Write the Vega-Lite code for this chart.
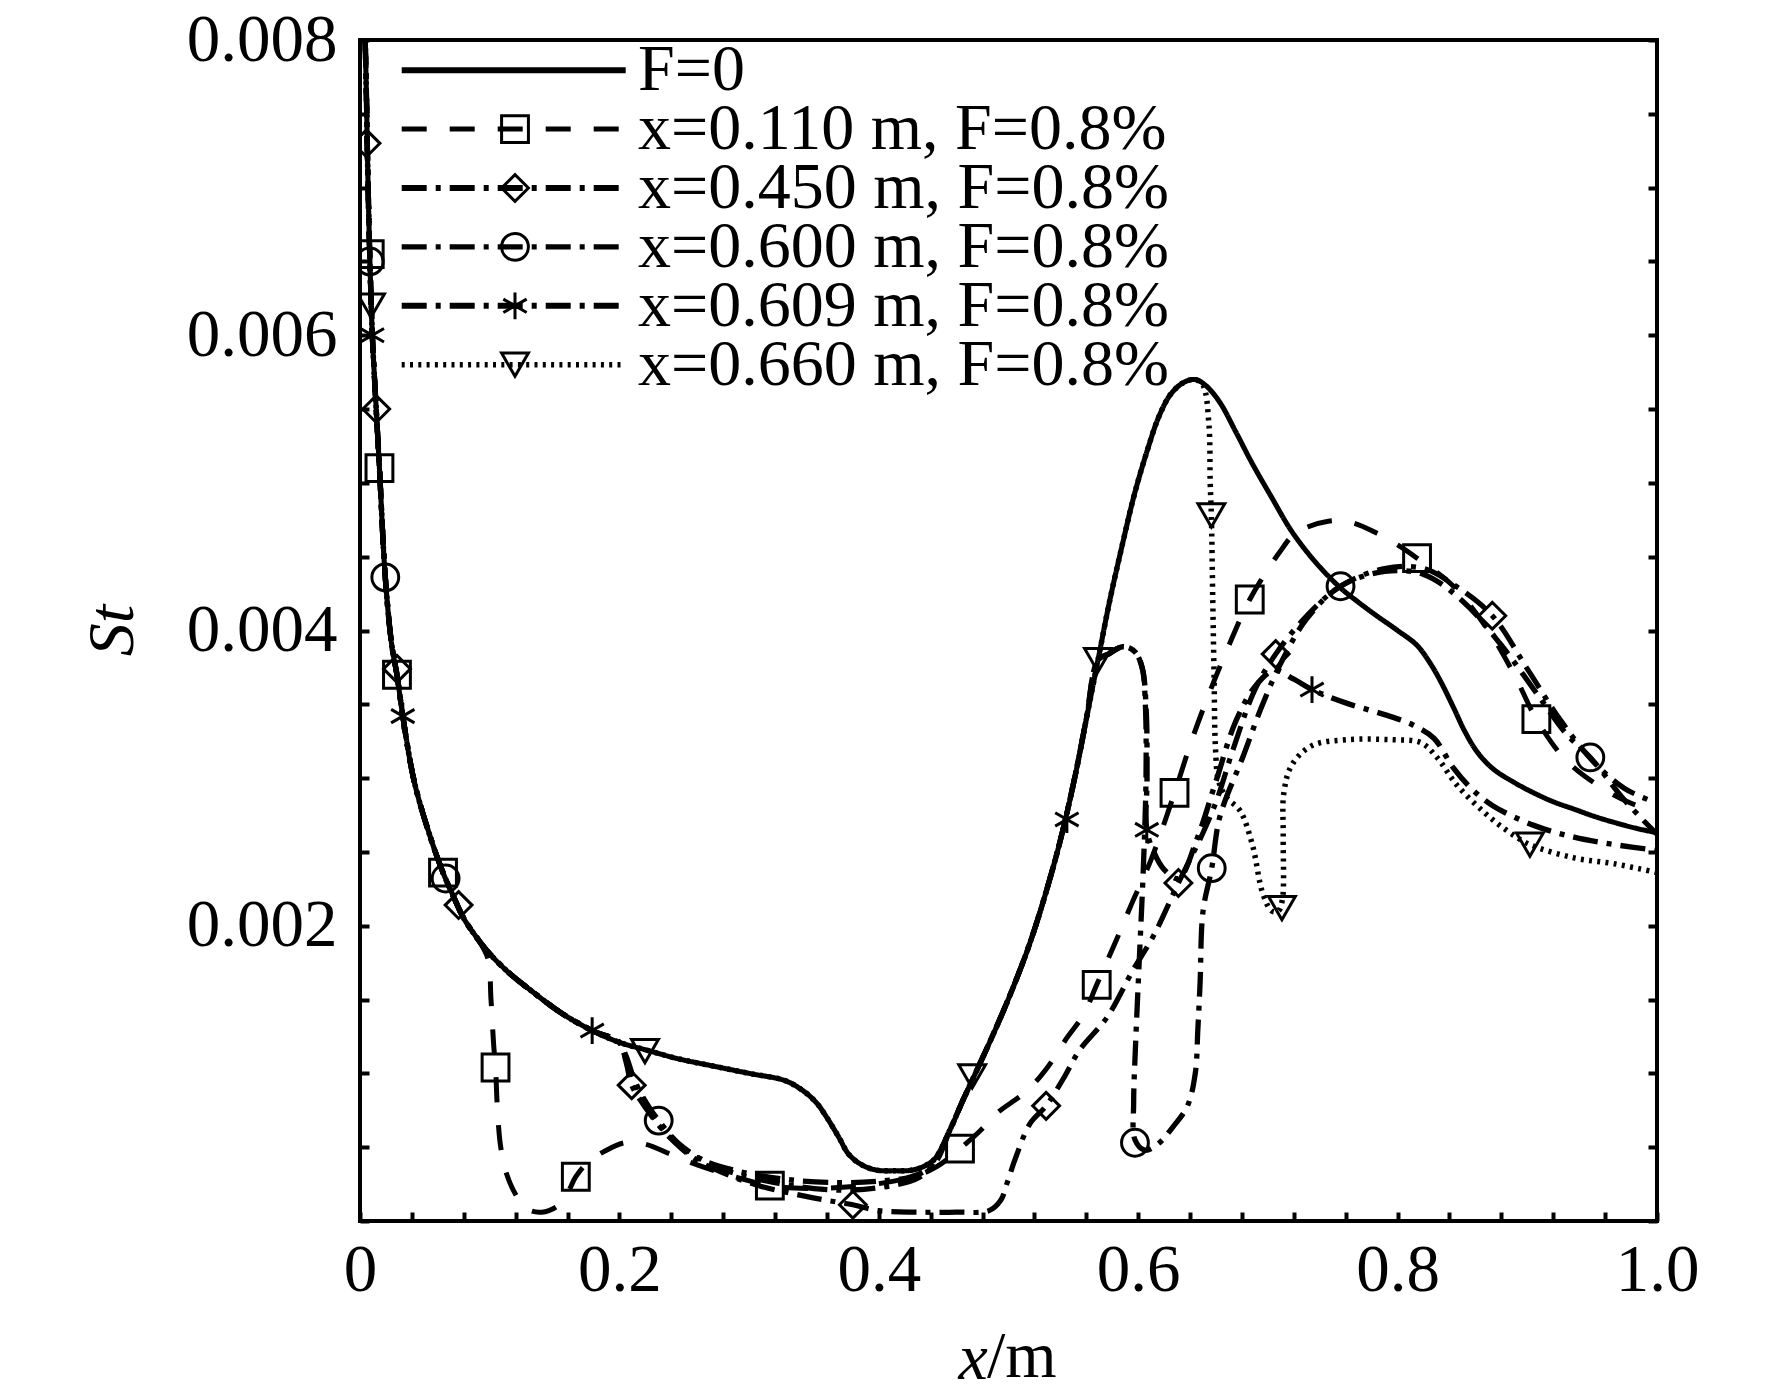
{
  "$schema": "https://vega.github.io/schema/vega-lite/v6.json",
  "autosize": "none",
  "width": 1297,
  "height": 1181,
  "padding": {"left": 360, "top": 40, "right": 115, "bottom": 176},
  "background": "white",
  "title": {
    "text": "/m",
    "orient": "bottom",
    "anchor": "start",
    "frame": "group",
    "font": "Liberation Serif",
    "fontSize": 66,
    "fontWeight": "normal",
    "color": "black",
    "dx": 627,
    "dy": -14,
    "offset": 0,
    "baseline": "alphabetic"
  },
  "datasets": {
    "curves": [
      {"series": "F=0", "x": 0.004, "st": 0.008},
      {"series": "F=0", "x": 0.005, "st": 0.0076},
      {"series": "F=0", "x": 0.0058, "st": 0.0072},
      {"series": "F=0", "x": 0.0075, "st": 0.00655},
      {"series": "F=0", "x": 0.0095, "st": 0.006},
      {"series": "F=0", "x": 0.0125, "st": 0.0055},
      {"series": "F=0", "x": 0.015, "st": 0.0051},
      {"series": "F=0", "x": 0.0195, "st": 0.00436},
      {"series": "F=0", "x": 0.0245, "st": 0.0039},
      {"series": "F=0", "x": 0.0285, "st": 0.0037},
      {"series": "F=0", "x": 0.033, "st": 0.00342},
      {"series": "F=0", "x": 0.042, "st": 0.00297},
      {"series": "F=0", "x": 0.055, "st": 0.00258},
      {"series": "F=0", "x": 0.064, "st": 0.00236},
      {"series": "F=0", "x": 0.072, "st": 0.0022},
      {"series": "F=0", "x": 0.08, "st": 0.00205},
      {"series": "F=0", "x": 0.09, "st": 0.00192},
      {"series": "F=0", "x": 0.099, "st": 0.00182},
      {"series": "F=0", "x": 0.115, "st": 0.00168},
      {"series": "F=0", "x": 0.132, "st": 0.00156},
      {"series": "F=0", "x": 0.155, "st": 0.00141},
      {"series": "F=0", "x": 0.179, "st": 0.00129},
      {"series": "F=0", "x": 0.2, "st": 0.00121},
      {"series": "F=0", "x": 0.22, "st": 0.00116},
      {"series": "F=0", "x": 0.245, "st": 0.0011},
      {"series": "F=0", "x": 0.272, "st": 0.00105},
      {"series": "F=0", "x": 0.3, "st": 0.001},
      {"series": "F=0", "x": 0.328, "st": 0.00095},
      {"series": "F=0", "x": 0.342, "st": 0.00088},
      {"series": "F=0", "x": 0.352, "st": 0.0008},
      {"series": "F=0", "x": 0.36, "st": 0.0007},
      {"series": "F=0", "x": 0.369, "st": 0.00057},
      {"series": "F=0", "x": 0.377, "st": 0.00045},
      {"series": "F=0", "x": 0.387, "st": 0.00038},
      {"series": "F=0", "x": 0.398, "st": 0.000345},
      {"series": "F=0", "x": 0.412, "st": 0.00034},
      {"series": "F=0", "x": 0.426, "st": 0.000345},
      {"series": "F=0", "x": 0.437, "st": 0.00038},
      {"series": "F=0", "x": 0.444, "st": 0.00043},
      {"series": "F=0", "x": 0.455, "st": 0.00062},
      {"series": "F=0", "x": 0.465, "st": 0.00082},
      {"series": "F=0", "x": 0.475, "st": 0.00101},
      {"series": "F=0", "x": 0.49, "st": 0.0013},
      {"series": "F=0", "x": 0.503, "st": 0.00157},
      {"series": "F=0", "x": 0.516, "st": 0.00187},
      {"series": "F=0", "x": 0.528, "st": 0.0022},
      {"series": "F=0", "x": 0.54, "st": 0.00258},
      {"series": "F=0", "x": 0.551, "st": 0.003},
      {"series": "F=0", "x": 0.56, "st": 0.0034},
      {"series": "F=0", "x": 0.569, "st": 0.0038},
      {"series": "F=0", "x": 0.578, "st": 0.0042},
      {"series": "F=0", "x": 0.588, "st": 0.00459},
      {"series": "F=0", "x": 0.597, "st": 0.00492},
      {"series": "F=0", "x": 0.607, "st": 0.00522},
      {"series": "F=0", "x": 0.616, "st": 0.00545},
      {"series": "F=0", "x": 0.625, "st": 0.0056},
      {"series": "F=0", "x": 0.635, "st": 0.00568},
      {"series": "F=0", "x": 0.644, "st": 0.0057},
      {"series": "F=0", "x": 0.652, "st": 0.00566},
      {"series": "F=0", "x": 0.6626, "st": 0.00555},
      {"series": "F=0", "x": 0.675, "st": 0.00535},
      {"series": "F=0", "x": 0.6874, "st": 0.00514},
      {"series": "F=0", "x": 0.703, "st": 0.0049},
      {"series": "F=0", "x": 0.7185, "st": 0.00467},
      {"series": "F=0", "x": 0.737, "st": 0.00446},
      {"series": "F=0", "x": 0.7558, "st": 0.00429},
      {"series": "F=0", "x": 0.77, "st": 0.00419},
      {"series": "F=0", "x": 0.7838, "st": 0.0041},
      {"series": "F=0", "x": 0.8, "st": 0.004},
      {"series": "F=0", "x": 0.8149, "st": 0.0039},
      {"series": "F=0", "x": 0.825, "st": 0.00378},
      {"series": "F=0", "x": 0.8335, "st": 0.00365},
      {"series": "F=0", "x": 0.843, "st": 0.00348},
      {"series": "F=0", "x": 0.8522, "st": 0.00331},
      {"series": "F=0", "x": 0.862, "st": 0.00317},
      {"series": "F=0", "x": 0.874, "st": 0.00306},
      {"series": "F=0", "x": 0.89, "st": 0.00297},
      {"series": "F=0", "x": 0.905, "st": 0.0029},
      {"series": "F=0", "x": 0.92, "st": 0.00284},
      {"series": "F=0", "x": 0.936, "st": 0.00279},
      {"series": "F=0", "x": 0.952, "st": 0.00274},
      {"series": "F=0", "x": 0.967, "st": 0.0027},
      {"series": "F=0", "x": 0.984, "st": 0.00266},
      {"series": "F=0", "x": 1.0, "st": 0.00263},

      {"series": "x=0.110 m, F=0.8%", "x": 0.004, "st": 0.008},
      {"series": "x=0.110 m, F=0.8%", "x": 0.005, "st": 0.0076},
      {"series": "x=0.110 m, F=0.8%", "x": 0.0058, "st": 0.0072},
      {"series": "x=0.110 m, F=0.8%", "x": 0.0075, "st": 0.00655},
      {"series": "x=0.110 m, F=0.8%", "x": 0.0095, "st": 0.006},
      {"series": "x=0.110 m, F=0.8%", "x": 0.0125, "st": 0.0055},
      {"series": "x=0.110 m, F=0.8%", "x": 0.015, "st": 0.0051},
      {"series": "x=0.110 m, F=0.8%", "x": 0.0195, "st": 0.00436},
      {"series": "x=0.110 m, F=0.8%", "x": 0.0245, "st": 0.0039},
      {"series": "x=0.110 m, F=0.8%", "x": 0.0285, "st": 0.0037},
      {"series": "x=0.110 m, F=0.8%", "x": 0.033, "st": 0.00342},
      {"series": "x=0.110 m, F=0.8%", "x": 0.042, "st": 0.00297},
      {"series": "x=0.110 m, F=0.8%", "x": 0.055, "st": 0.00258},
      {"series": "x=0.110 m, F=0.8%", "x": 0.064, "st": 0.00236},
      {"series": "x=0.110 m, F=0.8%", "x": 0.072, "st": 0.0022},
      {"series": "x=0.110 m, F=0.8%", "x": 0.08, "st": 0.00205},
      {"series": "x=0.110 m, F=0.8%", "x": 0.09, "st": 0.00192},
      {"series": "x=0.110 m, F=0.8%", "x": 0.0985, "st": 0.00178},
      {"series": "x=0.110 m, F=0.8%", "x": 0.101, "st": 0.0015},
      {"series": "x=0.110 m, F=0.8%", "x": 0.103, "st": 0.0012},
      {"series": "x=0.110 m, F=0.8%", "x": 0.1045, "st": 0.00104},
      {"series": "x=0.110 m, F=0.8%", "x": 0.106, "st": 0.00075},
      {"series": "x=0.110 m, F=0.8%", "x": 0.1085, "st": 0.0005},
      {"series": "x=0.110 m, F=0.8%", "x": 0.113, "st": 0.00032},
      {"series": "x=0.110 m, F=0.8%", "x": 0.12, "st": 0.00018},
      {"series": "x=0.110 m, F=0.8%", "x": 0.129, "st": 0.00008},
      {"series": "x=0.110 m, F=0.8%", "x": 0.14, "st": 0.00006},
      {"series": "x=0.110 m, F=0.8%", "x": 0.152, "st": 0.0001},
      {"series": "x=0.110 m, F=0.8%", "x": 0.16, "st": 0.00019},
      {"series": "x=0.110 m, F=0.8%", "x": 0.1664, "st": 0.0003},
      {"series": "x=0.110 m, F=0.8%", "x": 0.176, "st": 0.0004},
      {"series": "x=0.110 m, F=0.8%", "x": 0.188, "st": 0.00047},
      {"series": "x=0.110 m, F=0.8%", "x": 0.204, "st": 0.00053},
      {"series": "x=0.110 m, F=0.8%", "x": 0.22, "st": 0.00052},
      {"series": "x=0.110 m, F=0.8%", "x": 0.24, "st": 0.00045},
      {"series": "x=0.110 m, F=0.8%", "x": 0.26, "st": 0.00038},
      {"series": "x=0.110 m, F=0.8%", "x": 0.285, "st": 0.00031},
      {"series": "x=0.110 m, F=0.8%", "x": 0.316, "st": 0.00024},
      {"series": "x=0.110 m, F=0.8%", "x": 0.345, "st": 0.00022},
      {"series": "x=0.110 m, F=0.8%", "x": 0.375, "st": 0.00023},
      {"series": "x=0.110 m, F=0.8%", "x": 0.405, "st": 0.00026},
      {"series": "x=0.110 m, F=0.8%", "x": 0.43, "st": 0.00031},
      {"series": "x=0.110 m, F=0.8%", "x": 0.445, "st": 0.00037},
      {"series": "x=0.110 m, F=0.8%", "x": 0.4626, "st": 0.00049},
      {"series": "x=0.110 m, F=0.8%", "x": 0.478, "st": 0.00061},
      {"series": "x=0.110 m, F=0.8%", "x": 0.491, "st": 0.00073},
      {"series": "x=0.110 m, F=0.8%", "x": 0.514, "st": 0.00088},
      {"series": "x=0.110 m, F=0.8%", "x": 0.53, "st": 0.00104},
      {"series": "x=0.110 m, F=0.8%", "x": 0.545, "st": 0.00124},
      {"series": "x=0.110 m, F=0.8%", "x": 0.558, "st": 0.0014},
      {"series": "x=0.110 m, F=0.8%", "x": 0.568, "st": 0.0016},
      {"series": "x=0.110 m, F=0.8%", "x": 0.583, "st": 0.0019},
      {"series": "x=0.110 m, F=0.8%", "x": 0.595, "st": 0.00215},
      {"series": "x=0.110 m, F=0.8%", "x": 0.61, "st": 0.00245},
      {"series": "x=0.110 m, F=0.8%", "x": 0.628, "st": 0.0029},
      {"series": "x=0.110 m, F=0.8%", "x": 0.641, "st": 0.00325},
      {"series": "x=0.110 m, F=0.8%", "x": 0.655, "st": 0.00358},
      {"series": "x=0.110 m, F=0.8%", "x": 0.669, "st": 0.00388},
      {"series": "x=0.110 m, F=0.8%", "x": 0.686, "st": 0.00421},
      {"series": "x=0.110 m, F=0.8%", "x": 0.709, "st": 0.00453},
      {"series": "x=0.110 m, F=0.8%", "x": 0.7216, "st": 0.00466},
      {"series": "x=0.110 m, F=0.8%", "x": 0.7465, "st": 0.00474},
      {"series": "x=0.110 m, F=0.8%", "x": 0.765, "st": 0.00473},
      {"series": "x=0.110 m, F=0.8%", "x": 0.7838, "st": 0.00466},
      {"series": "x=0.110 m, F=0.8%", "x": 0.8, "st": 0.00458},
      {"series": "x=0.110 m, F=0.8%", "x": 0.815, "st": 0.00449},
      {"series": "x=0.110 m, F=0.8%", "x": 0.843, "st": 0.0043},
      {"series": "x=0.110 m, F=0.8%", "x": 0.87, "st": 0.004},
      {"series": "x=0.110 m, F=0.8%", "x": 0.89, "st": 0.0037},
      {"series": "x=0.110 m, F=0.8%", "x": 0.907, "st": 0.0034},
      {"series": "x=0.110 m, F=0.8%", "x": 0.93, "st": 0.00312},
      {"series": "x=0.110 m, F=0.8%", "x": 0.96, "st": 0.00292},
      {"series": "x=0.110 m, F=0.8%", "x": 0.98, "st": 0.00283},
      {"series": "x=0.110 m, F=0.8%", "x": 1.0, "st": 0.00277},

      {"series": "x=0.450 m, F=0.8%", "x": 0.004, "st": 0.008},
      {"series": "x=0.450 m, F=0.8%", "x": 0.005, "st": 0.0076},
      {"series": "x=0.450 m, F=0.8%", "x": 0.0058, "st": 0.0072},
      {"series": "x=0.450 m, F=0.8%", "x": 0.0075, "st": 0.00655},
      {"series": "x=0.450 m, F=0.8%", "x": 0.0095, "st": 0.006},
      {"series": "x=0.450 m, F=0.8%", "x": 0.0125, "st": 0.0055},
      {"series": "x=0.450 m, F=0.8%", "x": 0.015, "st": 0.0051},
      {"series": "x=0.450 m, F=0.8%", "x": 0.0195, "st": 0.00436},
      {"series": "x=0.450 m, F=0.8%", "x": 0.0245, "st": 0.0039},
      {"series": "x=0.450 m, F=0.8%", "x": 0.0285, "st": 0.0037},
      {"series": "x=0.450 m, F=0.8%", "x": 0.033, "st": 0.00342},
      {"series": "x=0.450 m, F=0.8%", "x": 0.042, "st": 0.00297},
      {"series": "x=0.450 m, F=0.8%", "x": 0.055, "st": 0.00258},
      {"series": "x=0.450 m, F=0.8%", "x": 0.064, "st": 0.00236},
      {"series": "x=0.450 m, F=0.8%", "x": 0.072, "st": 0.0022},
      {"series": "x=0.450 m, F=0.8%", "x": 0.08, "st": 0.00205},
      {"series": "x=0.450 m, F=0.8%", "x": 0.09, "st": 0.00192},
      {"series": "x=0.450 m, F=0.8%", "x": 0.099, "st": 0.00182},
      {"series": "x=0.450 m, F=0.8%", "x": 0.115, "st": 0.00168},
      {"series": "x=0.450 m, F=0.8%", "x": 0.132, "st": 0.00156},
      {"series": "x=0.450 m, F=0.8%", "x": 0.155, "st": 0.00141},
      {"series": "x=0.450 m, F=0.8%", "x": 0.179, "st": 0.00129},
      {"series": "x=0.450 m, F=0.8%", "x": 0.2, "st": 0.00121},
      {"series": "x=0.450 m, F=0.8%", "x": 0.205, "st": 0.00108},
      {"series": "x=0.450 m, F=0.8%", "x": 0.2095, "st": 0.00092},
      {"series": "x=0.450 m, F=0.8%", "x": 0.216, "st": 0.00082},
      {"series": "x=0.450 m, F=0.8%", "x": 0.224, "st": 0.00072},
      {"series": "x=0.450 m, F=0.8%", "x": 0.235, "st": 0.0006},
      {"series": "x=0.450 m, F=0.8%", "x": 0.248, "st": 0.00049},
      {"series": "x=0.450 m, F=0.8%", "x": 0.26, "st": 0.00041},
      {"series": "x=0.450 m, F=0.8%", "x": 0.279, "st": 0.00033},
      {"series": "x=0.450 m, F=0.8%", "x": 0.307, "st": 0.00024},
      {"series": "x=0.450 m, F=0.8%", "x": 0.342, "st": 0.00017},
      {"series": "x=0.450 m, F=0.8%", "x": 0.36, "st": 0.00014},
      {"series": "x=0.450 m, F=0.8%", "x": 0.38, "st": 0.00011},
      {"series": "x=0.450 m, F=0.8%", "x": 0.4, "st": 0.00007},
      {"series": "x=0.450 m, F=0.8%", "x": 0.43, "st": 0.00006},
      {"series": "x=0.450 m, F=0.8%", "x": 0.46, "st": 0.00006},
      {"series": "x=0.450 m, F=0.8%", "x": 0.485, "st": 0.00007},
      {"series": "x=0.450 m, F=0.8%", "x": 0.494, "st": 0.00014},
      {"series": "x=0.450 m, F=0.8%", "x": 0.499, "st": 0.00026},
      {"series": "x=0.450 m, F=0.8%", "x": 0.506, "st": 0.00044},
      {"series": "x=0.450 m, F=0.8%", "x": 0.5166, "st": 0.00066},
      {"series": "x=0.450 m, F=0.8%", "x": 0.529, "st": 0.00078},
      {"series": "x=0.450 m, F=0.8%", "x": 0.542, "st": 0.00096},
      {"series": "x=0.450 m, F=0.8%", "x": 0.555, "st": 0.00116},
      {"series": "x=0.450 m, F=0.8%", "x": 0.576, "st": 0.00138},
      {"series": "x=0.450 m, F=0.8%", "x": 0.596, "st": 0.0017},
      {"series": "x=0.450 m, F=0.8%", "x": 0.6117, "st": 0.00193},
      {"series": "x=0.450 m, F=0.8%", "x": 0.631, "st": 0.00229},
      {"series": "x=0.450 m, F=0.8%", "x": 0.65, "st": 0.00263},
      {"series": "x=0.450 m, F=0.8%", "x": 0.6605, "st": 0.00285},
      {"series": "x=0.450 m, F=0.8%", "x": 0.673, "st": 0.00319},
      {"series": "x=0.450 m, F=0.8%", "x": 0.69, "st": 0.0036},
      {"series": "x=0.450 m, F=0.8%", "x": 0.706, "st": 0.00384},
      {"series": "x=0.450 m, F=0.8%", "x": 0.73, "st": 0.0041},
      {"series": "x=0.450 m, F=0.8%", "x": 0.756, "st": 0.0043},
      {"series": "x=0.450 m, F=0.8%", "x": 0.79, "st": 0.00442},
      {"series": "x=0.450 m, F=0.8%", "x": 0.82, "st": 0.00442},
      {"series": "x=0.450 m, F=0.8%", "x": 0.845, "st": 0.0043},
      {"series": "x=0.450 m, F=0.8%", "x": 0.873, "st": 0.0041},
      {"series": "x=0.450 m, F=0.8%", "x": 0.9, "st": 0.00374},
      {"series": "x=0.450 m, F=0.8%", "x": 0.925, "st": 0.0034},
      {"series": "x=0.450 m, F=0.8%", "x": 0.95, "st": 0.00312},
      {"series": "x=0.450 m, F=0.8%", "x": 0.975, "st": 0.00293},
      {"series": "x=0.450 m, F=0.8%", "x": 1.0, "st": 0.00283},

      {"series": "x=0.600 m, F=0.8%", "x": 0.004, "st": 0.008},
      {"series": "x=0.600 m, F=0.8%", "x": 0.005, "st": 0.0076},
      {"series": "x=0.600 m, F=0.8%", "x": 0.0058, "st": 0.0072},
      {"series": "x=0.600 m, F=0.8%", "x": 0.0075, "st": 0.00655},
      {"series": "x=0.600 m, F=0.8%", "x": 0.0095, "st": 0.006},
      {"series": "x=0.600 m, F=0.8%", "x": 0.0125, "st": 0.0055},
      {"series": "x=0.600 m, F=0.8%", "x": 0.015, "st": 0.0051},
      {"series": "x=0.600 m, F=0.8%", "x": 0.0195, "st": 0.00436},
      {"series": "x=0.600 m, F=0.8%", "x": 0.0245, "st": 0.0039},
      {"series": "x=0.600 m, F=0.8%", "x": 0.0285, "st": 0.0037},
      {"series": "x=0.600 m, F=0.8%", "x": 0.033, "st": 0.00342},
      {"series": "x=0.600 m, F=0.8%", "x": 0.042, "st": 0.00297},
      {"series": "x=0.600 m, F=0.8%", "x": 0.055, "st": 0.00258},
      {"series": "x=0.600 m, F=0.8%", "x": 0.064, "st": 0.00236},
      {"series": "x=0.600 m, F=0.8%", "x": 0.072, "st": 0.0022},
      {"series": "x=0.600 m, F=0.8%", "x": 0.08, "st": 0.00205},
      {"series": "x=0.600 m, F=0.8%", "x": 0.09, "st": 0.00192},
      {"series": "x=0.600 m, F=0.8%", "x": 0.099, "st": 0.00182},
      {"series": "x=0.600 m, F=0.8%", "x": 0.115, "st": 0.00168},
      {"series": "x=0.600 m, F=0.8%", "x": 0.132, "st": 0.00156},
      {"series": "x=0.600 m, F=0.8%", "x": 0.155, "st": 0.00141},
      {"series": "x=0.600 m, F=0.8%", "x": 0.179, "st": 0.00129},
      {"series": "x=0.600 m, F=0.8%", "x": 0.2, "st": 0.00121},
      {"series": "x=0.600 m, F=0.8%", "x": 0.205, "st": 0.0011},
      {"series": "x=0.600 m, F=0.8%", "x": 0.215, "st": 0.00089},
      {"series": "x=0.600 m, F=0.8%", "x": 0.223, "st": 0.00077},
      {"series": "x=0.600 m, F=0.8%", "x": 0.2303, "st": 0.00068},
      {"series": "x=0.600 m, F=0.8%", "x": 0.245, "st": 0.00053},
      {"series": "x=0.600 m, F=0.8%", "x": 0.265, "st": 0.00041},
      {"series": "x=0.600 m, F=0.8%", "x": 0.29, "st": 0.00032},
      {"series": "x=0.600 m, F=0.8%", "x": 0.32, "st": 0.00026},
      {"series": "x=0.600 m, F=0.8%", "x": 0.35, "st": 0.00022},
      {"series": "x=0.600 m, F=0.8%", "x": 0.38, "st": 0.00021},
      {"series": "x=0.600 m, F=0.8%", "x": 0.41, "st": 0.00024},
      {"series": "x=0.600 m, F=0.8%", "x": 0.43, "st": 0.00029},
      {"series": "x=0.600 m, F=0.8%", "x": 0.444, "st": 0.0004},
      {"series": "x=0.600 m, F=0.8%", "x": 0.455, "st": 0.00062},
      {"series": "x=0.600 m, F=0.8%", "x": 0.465, "st": 0.00082},
      {"series": "x=0.600 m, F=0.8%", "x": 0.475, "st": 0.00101},
      {"series": "x=0.600 m, F=0.8%", "x": 0.49, "st": 0.0013},
      {"series": "x=0.600 m, F=0.8%", "x": 0.503, "st": 0.00157},
      {"series": "x=0.600 m, F=0.8%", "x": 0.516, "st": 0.00187},
      {"series": "x=0.600 m, F=0.8%", "x": 0.528, "st": 0.0022},
      {"series": "x=0.600 m, F=0.8%", "x": 0.54, "st": 0.00258},
      {"series": "x=0.600 m, F=0.8%", "x": 0.551, "st": 0.003},
      {"series": "x=0.600 m, F=0.8%", "x": 0.56, "st": 0.0034},
      {"series": "x=0.600 m, F=0.8%", "x": 0.569, "st": 0.0038},
      {"series": "x=0.600 m, F=0.8%", "x": 0.577, "st": 0.00384},
      {"series": "x=0.600 m, F=0.8%", "x": 0.588, "st": 0.00389},
      {"series": "x=0.600 m, F=0.8%", "x": 0.597, "st": 0.00386},
      {"series": "x=0.600 m, F=0.8%", "x": 0.603, "st": 0.00375},
      {"series": "x=0.600 m, F=0.8%", "x": 0.6055, "st": 0.0035},
      {"series": "x=0.600 m, F=0.8%", "x": 0.606, "st": 0.003},
      {"series": "x=0.600 m, F=0.8%", "x": 0.604, "st": 0.0024},
      {"series": "x=0.600 m, F=0.8%", "x": 0.601, "st": 0.0018},
      {"series": "x=0.600 m, F=0.8%", "x": 0.598, "st": 0.0012},
      {"series": "x=0.600 m, F=0.8%", "x": 0.5965, "st": 0.0008},
      {"series": "x=0.600 m, F=0.8%", "x": 0.5975, "st": 0.00055},
      {"series": "x=0.600 m, F=0.8%", "x": 0.605, "st": 0.00048},
      {"series": "x=0.600 m, F=0.8%", "x": 0.615, "st": 0.00052},
      {"series": "x=0.600 m, F=0.8%", "x": 0.627, "st": 0.00064},
      {"series": "x=0.600 m, F=0.8%", "x": 0.638, "st": 0.00078},
      {"series": "x=0.600 m, F=0.8%", "x": 0.644, "st": 0.001},
      {"series": "x=0.600 m, F=0.8%", "x": 0.646, "st": 0.0013},
      {"series": "x=0.600 m, F=0.8%", "x": 0.6477, "st": 0.00161},
      {"series": "x=0.600 m, F=0.8%", "x": 0.65, "st": 0.0021},
      {"series": "x=0.600 m, F=0.8%", "x": 0.6567, "st": 0.00239},
      {"series": "x=0.600 m, F=0.8%", "x": 0.663, "st": 0.00274},
      {"series": "x=0.600 m, F=0.8%", "x": 0.681, "st": 0.00315},
      {"series": "x=0.600 m, F=0.8%", "x": 0.695, "st": 0.00348},
      {"series": "x=0.600 m, F=0.8%", "x": 0.71, "st": 0.00378},
      {"series": "x=0.600 m, F=0.8%", "x": 0.73, "st": 0.00408},
      {"series": "x=0.600 m, F=0.8%", "x": 0.756, "st": 0.0043},
      {"series": "x=0.600 m, F=0.8%", "x": 0.79, "st": 0.0044},
      {"series": "x=0.600 m, F=0.8%", "x": 0.82, "st": 0.00438},
      {"series": "x=0.600 m, F=0.8%", "x": 0.85, "st": 0.0042},
      {"series": "x=0.600 m, F=0.8%", "x": 0.88, "st": 0.0039},
      {"series": "x=0.600 m, F=0.8%", "x": 0.91, "st": 0.00354},
      {"series": "x=0.600 m, F=0.8%", "x": 0.93, "st": 0.0033},
      {"series": "x=0.600 m, F=0.8%", "x": 0.9486, "st": 0.00314},
      {"series": "x=0.600 m, F=0.8%", "x": 0.975, "st": 0.00285},
      {"series": "x=0.600 m, F=0.8%", "x": 1.0, "st": 0.00262},

      {"series": "x=0.609 m, F=0.8%", "x": 0.004, "st": 0.008},
      {"series": "x=0.609 m, F=0.8%", "x": 0.005, "st": 0.0076},
      {"series": "x=0.609 m, F=0.8%", "x": 0.0058, "st": 0.0072},
      {"series": "x=0.609 m, F=0.8%", "x": 0.0075, "st": 0.00655},
      {"series": "x=0.609 m, F=0.8%", "x": 0.0095, "st": 0.006},
      {"series": "x=0.609 m, F=0.8%", "x": 0.0125, "st": 0.0055},
      {"series": "x=0.609 m, F=0.8%", "x": 0.015, "st": 0.0051},
      {"series": "x=0.609 m, F=0.8%", "x": 0.0195, "st": 0.00436},
      {"series": "x=0.609 m, F=0.8%", "x": 0.0245, "st": 0.0039},
      {"series": "x=0.609 m, F=0.8%", "x": 0.0285, "st": 0.0037},
      {"series": "x=0.609 m, F=0.8%", "x": 0.033, "st": 0.00342},
      {"series": "x=0.609 m, F=0.8%", "x": 0.042, "st": 0.00297},
      {"series": "x=0.609 m, F=0.8%", "x": 0.055, "st": 0.00258},
      {"series": "x=0.609 m, F=0.8%", "x": 0.064, "st": 0.00236},
      {"series": "x=0.609 m, F=0.8%", "x": 0.072, "st": 0.0022},
      {"series": "x=0.609 m, F=0.8%", "x": 0.08, "st": 0.00205},
      {"series": "x=0.609 m, F=0.8%", "x": 0.09, "st": 0.00192},
      {"series": "x=0.609 m, F=0.8%", "x": 0.099, "st": 0.00182},
      {"series": "x=0.609 m, F=0.8%", "x": 0.115, "st": 0.00168},
      {"series": "x=0.609 m, F=0.8%", "x": 0.132, "st": 0.00156},
      {"series": "x=0.609 m, F=0.8%", "x": 0.155, "st": 0.00141},
      {"series": "x=0.609 m, F=0.8%", "x": 0.179, "st": 0.00129},
      {"series": "x=0.609 m, F=0.8%", "x": 0.2, "st": 0.00121},
      {"series": "x=0.609 m, F=0.8%", "x": 0.205, "st": 0.00112},
      {"series": "x=0.609 m, F=0.8%", "x": 0.215, "st": 0.00087},
      {"series": "x=0.609 m, F=0.8%", "x": 0.23, "st": 0.00066},
      {"series": "x=0.609 m, F=0.8%", "x": 0.245, "st": 0.00052},
      {"series": "x=0.609 m, F=0.8%", "x": 0.262, "st": 0.00042},
      {"series": "x=0.609 m, F=0.8%", "x": 0.29, "st": 0.00034},
      {"series": "x=0.609 m, F=0.8%", "x": 0.33, "st": 0.00028},
      {"series": "x=0.609 m, F=0.8%", "x": 0.37, "st": 0.00026},
      {"series": "x=0.609 m, F=0.8%", "x": 0.4, "st": 0.00027},
      {"series": "x=0.609 m, F=0.8%", "x": 0.425, "st": 0.0003},
      {"series": "x=0.609 m, F=0.8%", "x": 0.44, "st": 0.00037},
      {"series": "x=0.609 m, F=0.8%", "x": 0.455, "st": 0.00062},
      {"series": "x=0.609 m, F=0.8%", "x": 0.465, "st": 0.00082},
      {"series": "x=0.609 m, F=0.8%", "x": 0.475, "st": 0.00101},
      {"series": "x=0.609 m, F=0.8%", "x": 0.49, "st": 0.0013},
      {"series": "x=0.609 m, F=0.8%", "x": 0.503, "st": 0.00157},
      {"series": "x=0.609 m, F=0.8%", "x": 0.516, "st": 0.00187},
      {"series": "x=0.609 m, F=0.8%", "x": 0.528, "st": 0.0022},
      {"series": "x=0.609 m, F=0.8%", "x": 0.54, "st": 0.00258},
      {"series": "x=0.609 m, F=0.8%", "x": 0.551, "st": 0.003},
      {"series": "x=0.609 m, F=0.8%", "x": 0.56, "st": 0.0034},
      {"series": "x=0.609 m, F=0.8%", "x": 0.569, "st": 0.0038},
      {"series": "x=0.609 m, F=0.8%", "x": 0.577, "st": 0.00384},
      {"series": "x=0.609 m, F=0.8%", "x": 0.588, "st": 0.00389},
      {"series": "x=0.609 m, F=0.8%", "x": 0.597, "st": 0.00386},
      {"series": "x=0.609 m, F=0.8%", "x": 0.603, "st": 0.00375},
      {"series": "x=0.609 m, F=0.8%", "x": 0.6062, "st": 0.00345},
      {"series": "x=0.609 m, F=0.8%", "x": 0.6068, "st": 0.003},
      {"series": "x=0.609 m, F=0.8%", "x": 0.6066, "st": 0.00265},
      {"series": "x=0.609 m, F=0.8%", "x": 0.612, "st": 0.0025},
      {"series": "x=0.609 m, F=0.8%", "x": 0.62, "st": 0.00238},
      {"series": "x=0.609 m, F=0.8%", "x": 0.631, "st": 0.00232},
      {"series": "x=0.609 m, F=0.8%", "x": 0.645, "st": 0.00258},
      {"series": "x=0.609 m, F=0.8%", "x": 0.66, "st": 0.00298},
      {"series": "x=0.609 m, F=0.8%", "x": 0.675, "st": 0.00338},
      {"series": "x=0.609 m, F=0.8%", "x": 0.69, "st": 0.00362},
      {"series": "x=0.609 m, F=0.8%", "x": 0.705, "st": 0.00373},
      {"series": "x=0.609 m, F=0.8%", "x": 0.72, "st": 0.00367},
      {"series": "x=0.609 m, F=0.8%", "x": 0.734, "st": 0.0036},
      {"series": "x=0.609 m, F=0.8%", "x": 0.76, "st": 0.00351},
      {"series": "x=0.609 m, F=0.8%", "x": 0.79, "st": 0.00343},
      {"series": "x=0.609 m, F=0.8%", "x": 0.8118, "st": 0.00336},
      {"series": "x=0.609 m, F=0.8%", "x": 0.828, "st": 0.00327},
      {"series": "x=0.609 m, F=0.8%", "x": 0.843, "st": 0.00307},
      {"series": "x=0.609 m, F=0.8%", "x": 0.858, "st": 0.00292},
      {"series": "x=0.609 m, F=0.8%", "x": 0.874, "st": 0.00281},
      {"series": "x=0.609 m, F=0.8%", "x": 0.905, "st": 0.00268},
      {"series": "x=0.609 m, F=0.8%", "x": 0.936, "st": 0.0026},
      {"series": "x=0.609 m, F=0.8%", "x": 0.967, "st": 0.00255},
      {"series": "x=0.609 m, F=0.8%", "x": 1.0, "st": 0.00251},

      {"series": "x=0.660 m, F=0.8%", "x": 0.004, "st": 0.008},
      {"series": "x=0.660 m, F=0.8%", "x": 0.005, "st": 0.0076},
      {"series": "x=0.660 m, F=0.8%", "x": 0.0058, "st": 0.0072},
      {"series": "x=0.660 m, F=0.8%", "x": 0.0075, "st": 0.00655},
      {"series": "x=0.660 m, F=0.8%", "x": 0.0095, "st": 0.006},
      {"series": "x=0.660 m, F=0.8%", "x": 0.0125, "st": 0.0055},
      {"series": "x=0.660 m, F=0.8%", "x": 0.015, "st": 0.0051},
      {"series": "x=0.660 m, F=0.8%", "x": 0.0195, "st": 0.00436},
      {"series": "x=0.660 m, F=0.8%", "x": 0.0245, "st": 0.0039},
      {"series": "x=0.660 m, F=0.8%", "x": 0.0285, "st": 0.0037},
      {"series": "x=0.660 m, F=0.8%", "x": 0.033, "st": 0.00342},
      {"series": "x=0.660 m, F=0.8%", "x": 0.042, "st": 0.00297},
      {"series": "x=0.660 m, F=0.8%", "x": 0.055, "st": 0.00258},
      {"series": "x=0.660 m, F=0.8%", "x": 0.064, "st": 0.00236},
      {"series": "x=0.660 m, F=0.8%", "x": 0.072, "st": 0.0022},
      {"series": "x=0.660 m, F=0.8%", "x": 0.08, "st": 0.00205},
      {"series": "x=0.660 m, F=0.8%", "x": 0.09, "st": 0.00192},
      {"series": "x=0.660 m, F=0.8%", "x": 0.099, "st": 0.00182},
      {"series": "x=0.660 m, F=0.8%", "x": 0.115, "st": 0.00168},
      {"series": "x=0.660 m, F=0.8%", "x": 0.132, "st": 0.00156},
      {"series": "x=0.660 m, F=0.8%", "x": 0.155, "st": 0.00141},
      {"series": "x=0.660 m, F=0.8%", "x": 0.179, "st": 0.00129},
      {"series": "x=0.660 m, F=0.8%", "x": 0.2, "st": 0.00121},
      {"series": "x=0.660 m, F=0.8%", "x": 0.22, "st": 0.00116},
      {"series": "x=0.660 m, F=0.8%", "x": 0.245, "st": 0.0011},
      {"series": "x=0.660 m, F=0.8%", "x": 0.272, "st": 0.00105},
      {"series": "x=0.660 m, F=0.8%", "x": 0.3, "st": 0.001},
      {"series": "x=0.660 m, F=0.8%", "x": 0.328, "st": 0.00095},
      {"series": "x=0.660 m, F=0.8%", "x": 0.342, "st": 0.00088},
      {"series": "x=0.660 m, F=0.8%", "x": 0.352, "st": 0.0008},
      {"series": "x=0.660 m, F=0.8%", "x": 0.36, "st": 0.0007},
      {"series": "x=0.660 m, F=0.8%", "x": 0.369, "st": 0.00057},
      {"series": "x=0.660 m, F=0.8%", "x": 0.377, "st": 0.00045},
      {"series": "x=0.660 m, F=0.8%", "x": 0.387, "st": 0.00038},
      {"series": "x=0.660 m, F=0.8%", "x": 0.398, "st": 0.000345},
      {"series": "x=0.660 m, F=0.8%", "x": 0.412, "st": 0.00034},
      {"series": "x=0.660 m, F=0.8%", "x": 0.426, "st": 0.000345},
      {"series": "x=0.660 m, F=0.8%", "x": 0.437, "st": 0.00038},
      {"series": "x=0.660 m, F=0.8%", "x": 0.444, "st": 0.00043},
      {"series": "x=0.660 m, F=0.8%", "x": 0.455, "st": 0.00062},
      {"series": "x=0.660 m, F=0.8%", "x": 0.465, "st": 0.00082},
      {"series": "x=0.660 m, F=0.8%", "x": 0.475, "st": 0.00101},
      {"series": "x=0.660 m, F=0.8%", "x": 0.49, "st": 0.0013},
      {"series": "x=0.660 m, F=0.8%", "x": 0.503, "st": 0.00157},
      {"series": "x=0.660 m, F=0.8%", "x": 0.516, "st": 0.00187},
      {"series": "x=0.660 m, F=0.8%", "x": 0.528, "st": 0.0022},
      {"series": "x=0.660 m, F=0.8%", "x": 0.54, "st": 0.00258},
      {"series": "x=0.660 m, F=0.8%", "x": 0.551, "st": 0.003},
      {"series": "x=0.660 m, F=0.8%", "x": 0.56, "st": 0.0034},
      {"series": "x=0.660 m, F=0.8%", "x": 0.569, "st": 0.0038},
      {"series": "x=0.660 m, F=0.8%", "x": 0.578, "st": 0.0042},
      {"series": "x=0.660 m, F=0.8%", "x": 0.588, "st": 0.00459},
      {"series": "x=0.660 m, F=0.8%", "x": 0.597, "st": 0.00492},
      {"series": "x=0.660 m, F=0.8%", "x": 0.607, "st": 0.00522},
      {"series": "x=0.660 m, F=0.8%", "x": 0.616, "st": 0.00545},
      {"series": "x=0.660 m, F=0.8%", "x": 0.625, "st": 0.0056},
      {"series": "x=0.660 m, F=0.8%", "x": 0.635, "st": 0.00568},
      {"series": "x=0.660 m, F=0.8%", "x": 0.644, "st": 0.0057},
      {"series": "x=0.660 m, F=0.8%", "x": 0.65, "st": 0.00566},
      {"series": "x=0.660 m, F=0.8%", "x": 0.6545, "st": 0.0054},
      {"series": "x=0.660 m, F=0.8%", "x": 0.6555, "st": 0.005},
      {"series": "x=0.660 m, F=0.8%", "x": 0.6564, "st": 0.00478},
      {"series": "x=0.660 m, F=0.8%", "x": 0.6575, "st": 0.0042},
      {"series": "x=0.660 m, F=0.8%", "x": 0.6585, "st": 0.0037},
      {"series": "x=0.660 m, F=0.8%", "x": 0.6596, "st": 0.0032},
      {"series": "x=0.660 m, F=0.8%", "x": 0.662, "st": 0.00298},
      {"series": "x=0.660 m, F=0.8%", "x": 0.668, "st": 0.00287},
      {"series": "x=0.660 m, F=0.8%", "x": 0.6785, "st": 0.00278},
      {"series": "x=0.660 m, F=0.8%", "x": 0.688, "st": 0.00255},
      {"series": "x=0.660 m, F=0.8%", "x": 0.696, "st": 0.00222},
      {"series": "x=0.660 m, F=0.8%", "x": 0.703, "st": 0.0021},
      {"series": "x=0.660 m, F=0.8%", "x": 0.708, "st": 0.0021},
      {"series": "x=0.660 m, F=0.8%", "x": 0.7112, "st": 0.00218},
      {"series": "x=0.660 m, F=0.8%", "x": 0.7118, "st": 0.0026},
      {"series": "x=0.660 m, F=0.8%", "x": 0.7123, "st": 0.0029},
      {"series": "x=0.660 m, F=0.8%", "x": 0.7185, "st": 0.00309},
      {"series": "x=0.660 m, F=0.8%", "x": 0.734, "st": 0.00322},
      {"series": "x=0.660 m, F=0.8%", "x": 0.761, "st": 0.00326},
      {"series": "x=0.660 m, F=0.8%", "x": 0.796, "st": 0.00326},
      {"series": "x=0.660 m, F=0.8%", "x": 0.818, "st": 0.00324},
      {"series": "x=0.660 m, F=0.8%", "x": 0.8304, "st": 0.00314},
      {"series": "x=0.660 m, F=0.8%", "x": 0.846, "st": 0.00295},
      {"series": "x=0.660 m, F=0.8%", "x": 0.8678, "st": 0.00276},
      {"series": "x=0.660 m, F=0.8%", "x": 0.885, "st": 0.00264},
      {"series": "x=0.660 m, F=0.8%", "x": 0.902, "st": 0.00255},
      {"series": "x=0.660 m, F=0.8%", "x": 0.936, "st": 0.00246},
      {"series": "x=0.660 m, F=0.8%", "x": 0.967, "st": 0.00242},
      {"series": "x=0.660 m, F=0.8%", "x": 1.0, "st": 0.00236}
    ],
    "symbols": [
      {"series": "x=0.110 m, F=0.8%", "x": 0.0075, "st": 0.00655},
      {"series": "x=0.110 m, F=0.8%", "x": 0.015, "st": 0.0051},
      {"series": "x=0.110 m, F=0.8%", "x": 0.0285, "st": 0.0037},
      {"series": "x=0.110 m, F=0.8%", "x": 0.064, "st": 0.00236},
      {"series": "x=0.110 m, F=0.8%", "x": 0.1045, "st": 0.00104},
      {"series": "x=0.110 m, F=0.8%", "x": 0.1664, "st": 0.0003},
      {"series": "x=0.110 m, F=0.8%", "x": 0.316, "st": 0.00024},
      {"series": "x=0.110 m, F=0.8%", "x": 0.4626, "st": 0.00049},
      {"series": "x=0.110 m, F=0.8%", "x": 0.568, "st": 0.0016},
      {"series": "x=0.110 m, F=0.8%", "x": 0.628, "st": 0.0029},
      {"series": "x=0.110 m, F=0.8%", "x": 0.686, "st": 0.00421},
      {"series": "x=0.110 m, F=0.8%", "x": 0.815, "st": 0.00449},
      {"series": "x=0.110 m, F=0.8%", "x": 0.907, "st": 0.0034},
      {"series": "x=0.450 m, F=0.8%", "x": 0.005, "st": 0.0073},
      {"series": "x=0.450 m, F=0.8%", "x": 0.0125, "st": 0.0055},
      {"series": "x=0.450 m, F=0.8%", "x": 0.0285, "st": 0.00374},
      {"series": "x=0.450 m, F=0.8%", "x": 0.076, "st": 0.00214},
      {"series": "x=0.450 m, F=0.8%", "x": 0.2095, "st": 0.00092},
      {"series": "x=0.450 m, F=0.8%", "x": 0.38, "st": 0.00011},
      {"series": "x=0.450 m, F=0.8%", "x": 0.529, "st": 0.00078},
      {"series": "x=0.450 m, F=0.8%", "x": 0.631, "st": 0.00229},
      {"series": "x=0.450 m, F=0.8%", "x": 0.706, "st": 0.00384},
      {"series": "x=0.450 m, F=0.8%", "x": 0.873, "st": 0.0041},
      {"series": "x=0.600 m, F=0.8%", "x": 0.0075, "st": 0.0065},
      {"series": "x=0.600 m, F=0.8%", "x": 0.0195, "st": 0.00436},
      {"series": "x=0.600 m, F=0.8%", "x": 0.066, "st": 0.00232},
      {"series": "x=0.600 m, F=0.8%", "x": 0.2303, "st": 0.00068},
      {"series": "x=0.600 m, F=0.8%", "x": 0.5975, "st": 0.00053},
      {"series": "x=0.600 m, F=0.8%", "x": 0.6567, "st": 0.00239},
      {"series": "x=0.600 m, F=0.8%", "x": 0.756, "st": 0.0043},
      {"series": "x=0.600 m, F=0.8%", "x": 0.9486, "st": 0.00314},
      {"series": "x=0.609 m, F=0.8%", "x": 0.0095, "st": 0.006},
      {"series": "x=0.609 m, F=0.8%", "x": 0.033, "st": 0.00342},
      {"series": "x=0.609 m, F=0.8%", "x": 0.179, "st": 0.00129},
      {"series": "x=0.609 m, F=0.8%", "x": 0.545, "st": 0.00272},
      {"series": "x=0.609 m, F=0.8%", "x": 0.6066, "st": 0.00265},
      {"series": "x=0.609 m, F=0.8%", "x": 0.734, "st": 0.0036},
      {"series": "x=0.660 m, F=0.8%", "x": 0.0085, "st": 0.0062},
      {"series": "x=0.660 m, F=0.8%", "x": 0.2197, "st": 0.00115},
      {"series": "x=0.660 m, F=0.8%", "x": 0.472, "st": 0.00098},
      {"series": "x=0.660 m, F=0.8%", "x": 0.569, "st": 0.0038},
      {"series": "x=0.660 m, F=0.8%", "x": 0.6564, "st": 0.00478},
      {"series": "x=0.660 m, F=0.8%", "x": 0.7108, "st": 0.00212},
      {"series": "x=0.660 m, F=0.8%", "x": 0.902, "st": 0.00255}
    ]
  },
  "layer": [
    {
      "data": {"name": "curves"},
      "mark": {"type": "line", "color": "black", "interpolate": "catmull-rom", "clip": true, "strokeCap": "butt"},
      "encoding": {
        "x": {
          "field": "x",
          "type": "quantitative",
          "scale": {"domain": [0, 1], "nice": false, "zero": false},
          "axis": {
            "orient": "bottom",
            "values": [0, 0.04, 0.08, 0.12, 0.16, 0.2, 0.24, 0.28, 0.32, 0.36, 0.4, 0.44, 0.48, 0.52, 0.56, 0.6, 0.64, 0.68, 0.72, 0.76, 0.8, 0.84, 0.88, 0.92, 0.96, 1.0],
            "labelExpr": "abs(datum.value*5-round(datum.value*5))<1e-6 ? (datum.value<0.001 ? '0' : format(datum.value, '.1f')) : ''",
            "labelFont": "Liberation Serif",
            "labelFontSize": 67,
            "labelColor": "black",
            "labelPadding": 25.5,
            "labelOverlap": false,
            "labelFlush": false,
            "labelBound": false,
            "tickSize": -9,
            "tickWidth": 4,
            "tickColor": "black",
            "domain": false,
            "grid": false,
            "title": "x",
            "titleFont": "Liberation Serif",
            "titleFontStyle": "italic",
            "titleFontWeight": "normal",
            "titleFontSize": 66,
            "titleColor": "black",
            "titleX": 598,
            "titleY": 157,
            "titleAlign": "left",
            "titleBaseline": "alphabetic",
            "encode": {"ticks": {"update": {"y2": {"signal": "abs(datum.value*5-round(datum.value*5))<1e-6 ? -18 : -9"}}}}
          }
        },
        "y": {
          "field": "st",
          "type": "quantitative",
          "scale": {"domain": [0, 0.008], "nice": false},
          "axis": {
            "orient": "left",
            "values": [0, 0.0005, 0.001, 0.0015, 0.002, 0.0025, 0.003, 0.0035, 0.004, 0.0045, 0.005, 0.0055, 0.006, 0.0065, 0.007, 0.0075, 0.008],
            "labelExpr": "abs(datum.value*500-round(datum.value*500))<1e-6 && datum.value>0.0001 ? format(datum.value, '.3f') : ''",
            "labelFont": "Liberation Serif",
            "labelFontSize": 67,
            "labelColor": "black",
            "labelPadding": 32,
            "labelOverlap": false,
            "labelFlush": false,
            "labelBound": false,
            "tickSize": -9,
            "tickWidth": 4,
            "tickColor": "black",
            "domain": false,
            "grid": false,
            "title": "St",
            "titleFont": "Liberation Serif",
            "titleFontStyle": "italic",
            "titleFontWeight": "normal",
            "titleFontSize": 66,
            "titleColor": "black",
            "titleAngle": 270,
            "titleX": -228,
            "titleY": 590,
            "titleAlign": "center",
            "titleBaseline": "alphabetic",
            "encode": {"ticks": {"update": {"x2": {"signal": "abs(datum.value*500-round(datum.value*500))<1e-6 ? 18 : 9"}}}}
          }
        },
        "strokeDash": {
          "field": "series",
          "type": "nominal",
          "scale": {
            "domain": ["F=0", "x=0.110 m, F=0.8%", "x=0.450 m, F=0.8%", "x=0.600 m, F=0.8%", "x=0.609 m, F=0.8%", "x=0.660 m, F=0.8%"],
            "range": [[1, 0], [25, 23], [25, 9, 5, 9], [25, 9, 5, 9], [25, 9, 5, 9], [3, 5.3]]
          },
          "legend": {
            "orient": "none",
            "legendX": 120.7,
            "legendY": -2.8,
            "values": ["F=0", "x=0.450 m, F=0.8%", "x=0.609 m, F=0.8%"],
            "title": null,
            "padding": 0,
            "rowPadding": 51.8,
            "symbolType": "M-8,0L8,0",
            "symbolSize": 784,
            "symbolStrokeWidth": 6,
            "symbolStrokeColor": "black",
            "labelFont": "Liberation Serif",
            "labelFontSize": 66,
            "labelColor": "black",
            "labelOffset": 91.3,
            "labelLimit": 1000
          }
        },
        "strokeWidth": {
          "field": "series",
          "type": "nominal",
          "scale": {
            "domain": ["x=0.110 m, F=0.8%", "F=0", "x=0.450 m, F=0.8%", "x=0.600 m, F=0.8%", "x=0.609 m, F=0.8%", "x=0.660 m, F=0.8%"],
            "range": [5, 5.5, 5, 5, 5, 3.5]
          },
          "legend": {
            "orient": "none",
            "legendX": 120.7,
            "legendY": 56.1,
            "values": ["x=0.110 m, F=0.8%", "x=0.600 m, F=0.8%", "x=0.660 m, F=0.8%"],
            "title": null,
            "padding": 0,
            "rowPadding": 51.8,
            "symbolType": "M-8,0L8,0",
            "symbolSize": 784,
            "symbolStrokeColor": "black",
            "labelFont": "Liberation Serif",
            "labelFontSize": 66,
            "labelColor": "black",
            "labelOffset": 91.3,
            "labelLimit": 1000,
            "encode": {
              "symbols": {
                "update": {
                  "strokeDash": {"scale": "strokeDash", "field": "value"},
                  "strokeWidth": {"signal": "datum.value === 'x=0.660 m, F=0.8%' ? 4.5 : 6"}
                }
              }
            }
          }
        },
        "order": {"value": null}
      }
    },
    {
      "data": {"name": "symbols"},
      "mark": {"type": "point", "filled": false, "color": "black", "strokeWidth": 3, "opacity": 1, "clip": true},
      "encoding": {
        "x": {
          "field": "x",
          "type": "quantitative",
          "scale": {"domain": [0, 1], "nice": false, "zero": false}
        },
        "y": {
          "field": "st",
          "type": "quantitative",
          "scale": {"domain": [0, 0.008], "nice": false},
          "axis": {
            "orient": "right",
            "values": [0, 0.0005, 0.001, 0.0015, 0.002, 0.0025, 0.003, 0.0035, 0.004, 0.0045, 0.005, 0.0055, 0.006, 0.0065, 0.007, 0.0075, 0.008],
            "labels": false,
            "tickSize": -9,
            "tickWidth": 4,
            "tickColor": "black",
            "domain": false,
            "grid": false,
            "title": null,
            "encode": {"ticks": {"update": {"x2": {"signal": "abs(datum.value*500-round(datum.value*500))<1e-6 ? -18 : -9"}}}}
          }
        },
        "shape": {
          "field": "series",
          "type": "nominal",
          "scale": {
            "domain": ["x=0.110 m, F=0.8%", "x=0.450 m, F=0.8%", "x=0.600 m, F=0.8%", "x=0.609 m, F=0.8%", "x=0.660 m, F=0.8%"],
            "range": ["square", "diamond", "circle", "M0,-1L0,1M-0.87,-0.5L0.87,0.5M-0.87,0.5L0.87,-0.5", "triangle-down"]
          },
          "legend": {
            "orient": "none",
            "legendX": 122,
            "legendY": 56.1,
            "values": ["x=0.110 m, F=0.8%", "x=0.600 m, F=0.8%", "x=0.660 m, F=0.8%"],
            "title": null,
            "padding": 0,
            "rowPadding": 51.8,
            "symbolSize": 720,
            "symbolStrokeWidth": 3,
            "symbolStrokeColor": "black",
            "symbolFillColor": "transparent",
            "labelFont": "Liberation Serif",
            "labelFontSize": 66,
            "labelExpr": "' '",
            "labelOffset": -150,
            "labelLimit": 1000
          }
        },
        "size": {
          "field": "series",
          "type": "nominal",
          "scale": {
            "domain": ["x=0.450 m, F=0.8%", "x=0.110 m, F=0.8%", "x=0.600 m, F=0.8%", "x=0.609 m, F=0.8%", "x=0.660 m, F=0.8%"],
            "range": [720, 720, 720, 720, 720]
          },
          "legend": {
            "orient": "none",
            "legendX": 122,
            "legendY": 115,
            "values": ["x=0.450 m, F=0.8%"],
            "title": null,
            "padding": 0,
            "symbolType": "diamond",
            "symbolStrokeWidth": 3,
            "symbolStrokeColor": "black",
            "symbolFillColor": "transparent",
            "labelFont": "Liberation Serif",
            "labelFontSize": 66,
            "labelExpr": "' '",
            "labelOffset": -150,
            "labelLimit": 1000
          }
        },
        "opacity": {
          "field": "series",
          "type": "nominal",
          "scale": {
            "domain": ["x=0.609 m, F=0.8%", "x=0.110 m, F=0.8%", "x=0.450 m, F=0.8%", "x=0.600 m, F=0.8%", "x=0.660 m, F=0.8%"],
            "range": [1, 1, 1, 1, 1]
          },
          "legend": {
            "orient": "none",
            "legendX": 122,
            "legendY": 232.8,
            "values": ["x=0.609 m, F=0.8%"],
            "title": null,
            "padding": 0,
            "symbolType": "M0,-1L0,1M-0.87,-0.5L0.87,0.5M-0.87,0.5L0.87,-0.5",
            "symbolSize": 720,
            "symbolStrokeWidth": 3,
            "symbolStrokeColor": "black",
            "symbolFillColor": "transparent",
            "labelFont": "Liberation Serif",
            "labelFontSize": 66,
            "labelExpr": "' '",
            "labelOffset": -150,
            "labelLimit": 1000
          }
        }
      }
    }
  ],
  "resolve": {"axis": {"y": "independent"}},
  "config": {
    "view": {"stroke": "black", "strokeWidth": 4},
    "font": "Liberation Serif"
  }
}
